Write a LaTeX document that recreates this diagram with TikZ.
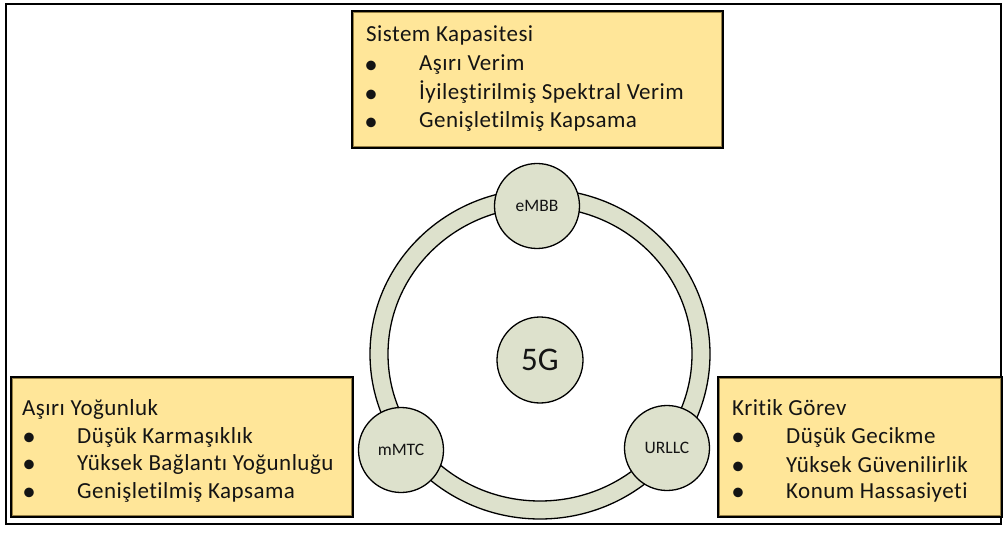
\documentclass[tikz,border=0pt]{standalone}
\usepackage{fontspec}
\setmainfont{Carlito}[Ligatures=NoCommon]
\definecolor{boxgold}{RGB}{255,230,153}
\definecolor{boxshade}{RGB}{150,128,68}
\definecolor{discfill}{RGB}{221,225,204}
\definecolor{inktext}{RGB}{20,20,20}
\begin{document}
\begin{tikzpicture}[x=1pt,y=-1pt,
  panel/.style={draw=black, fill=boxgold, line width=3pt, rectangle,
    inner sep=0pt, anchor=north west},
  panelshade/.style={draw=boxshade, line width=1.6pt},
  disc/.style={circle, draw=black, fill=discfill, line width=1.3pt,
    minimum size=85pt, inner sep=0pt, text=inktext,
    font=\fontsize{17.5}{18}\selectfont},
  ringband/.style={fill=discfill, draw=black, line width=1.3pt, even odd rule},
  line/.style={anchor=base west, inner sep=0pt, text=inktext,
    font=\fontsize{23}{26}\selectfont\addfontfeature{LetterSpace=2}},
  dot/.style={anchor=base, inner sep=0pt, text=inktext,
    font=\fontsize{27}{27}\selectfont}
]
\useasboundingbox (0,0) rectangle (1003,534);

% outer frame
\draw[line width=2.5pt] (6,4) rectangle (1001,524);

% ring linking the three service classes
\coordinate (hub) at (540,354);
\path[ringband] (hub) ellipse [x radius=170pt, y radius=165pt]
                (hub) ellipse [x radius=152pt, y radius=147pt];

% service discs
\node[disc] (embb) at (537,206) {eMBB};
\node[disc] (mmtc) at (401,450) {mMTC};
\node[disc] (urllc) at (667,448) {URLLC};
\node[disc, minimum size=86pt, font=\fontsize{33}{34}\selectfont] (core) at (540,360) {5G};

% top panel: system capacity
\node[panel, minimum width=370pt, minimum height=136pt] (cap) at (351,10) {};
\draw[panelshade] ([shift={(2.6,2.6)}]cap.north west) rectangle ([shift={(-2.6,-2.6)}]cap.south east);
\node[line] (capT) at (366,42) {Sistem Kapasitesi};
\node[dot] (capB1) at (371,73.5) {•};
\node[dot] (capB2) at (371,102.5) {•};
\node[dot] (capB3) at (371,130.5) {•};
\node[line] (capL1) at (419,71) {Aşırı Verim};
\node[line] (capL2) at (419,100) {İyileştirilmiş Spektral Verim};
\node[line] (capL3) at (419,128) {Genişletilmiş Kapsama};

% left panel: massive density
\node[panel, minimum width=341pt, minimum height=139pt] (den) at (10,376) {};
\draw[panelshade] ([shift={(2.6,2.6)}]den.north west) rectangle ([shift={(-2.6,-2.6)}]den.south east);
\node[line] (denT) at (22,415) {Aşırı Yoğunluk};
\node[dot] (denB1) at (29,445.5) {•};
\node[dot] (denB2) at (29,472.5) {•};
\node[dot] (denB3) at (29,500.5) {•};
\node[line] (denL1) at (77,443) {Düşük Karmaşıklık};
\node[line] (denL2) at (77,470) {Yüksek Bağlantı Yoğunluğu};
\node[line] (denL3) at (77,498) {Genişletilmiş Kapsama};

% right panel: mission critical
\node[panel, minimum width=283pt, minimum height=139pt] (mis) at (717,376) {};
\draw[panelshade] ([shift={(2.6,2.6)}]mis.north west) rectangle ([shift={(-2.6,-2.6)}]mis.south east);
\node[line] (misT) at (732,415) {Kritik Görev};
\node[dot] (misB1) at (738,445.5) {•};
\node[dot] (misB2) at (738,474.5) {•};
\node[dot] (misB3) at (738,500.5) {•};
\node[line] (misL1) at (786,443) {Düşük Gecikme};
\node[line] (misL2) at (786,472) {Yüksek Güvenilirlik};
\node[line] (misL3) at (786,498) {Konum Hassasiyeti};
\end{tikzpicture}
\end{document}
